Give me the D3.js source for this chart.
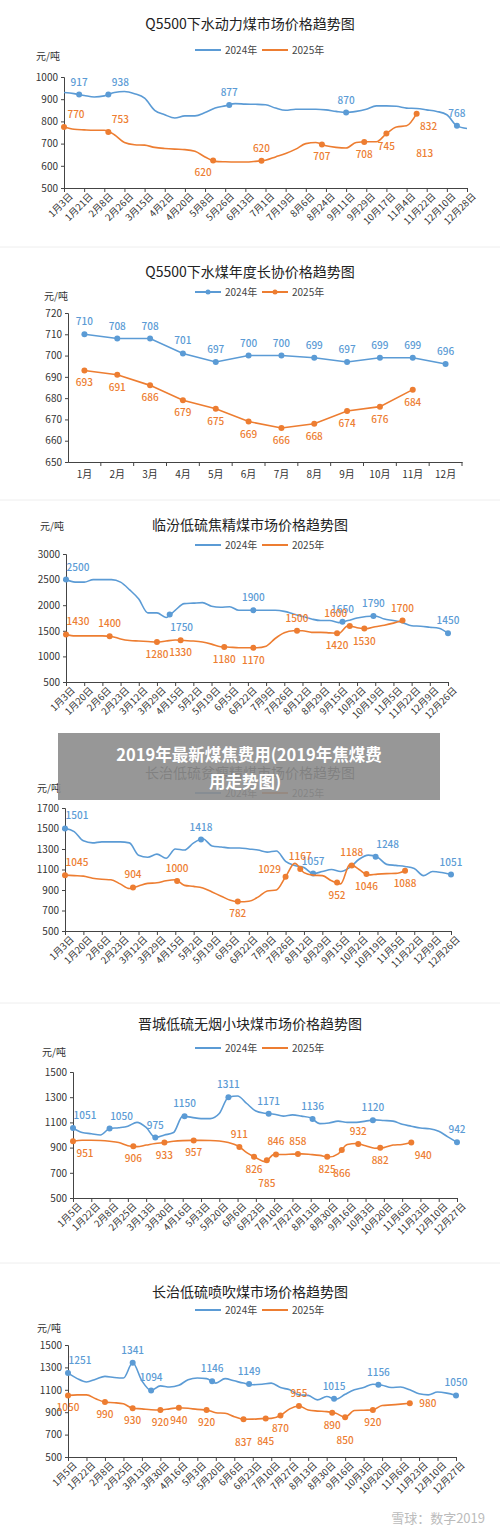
<!DOCTYPE html>
<html lang="zh">
<head>
<meta charset="UTF-8">
<title>煤价走势</title>
<script src="https://d3js.org/d3.v7.min.js"></script>
<style>
  body { margin: 0; background: #fff; }
  text { font-family: "Noto Sans CJK SC", "Noto Sans", sans-serif; }
</style>
</head>
<body>
<div id="chart"></div>
<script>
// ---- data (daily charts: one value every half tick interval) ----
const ticks1 = ["1月3日","1月21日","2月8日","2月26日","3月15日","4月2日","4月20日","5月8日","5月26日","6月13日","7月1日","7月19日","8月6日","8月24日","9月11日","9月29日","10月17日","11月4日","11月22日","12月10日","12月28日"];
const q5500Spot2024 = [930,925,917,910,915,930,935,925,905,850,830,815,825,825,840,860,870,880,878,877,875,860,850,855,855,855,852,845,840,845,855,870,870,868,860,858,852,845,830,780,768];
const q5500Spot2025 = [775,765,762,760,760,740,705,695,693,683,678,675,673,665,640,620,618,617,617,620,625,640,655,675,700,705,690,683,680,705,708,708,745,775,780,835];

const months = ["1月","2月","3月","4月","5月","6月","7月","8月","9月","10月","11月","12月"];
const q5500Contract2024 = [710,708,708,701,697,700,700,699,697,699,699,696];
const q5500Contract2025 = [693,691,686,679,675,669,666,668,674,676,684];

const ticks3 = ["1月3日","1月20日","2月6日","2月23日","3月12日","3月29日","4月15日","5月2日","5月19日","6月5日","6月22日","7月9日","7月26日","8月12日","8月29日","9月15日","10月2日","10月19日","11月5日","11月22日","12月9日","12月26日"];
const linfen2024 = [2500,2450,2450,2500,2500,2500,2450,2300,2120,1850,1850,1760,1900,2030,2040,2050,1980,1960,1970,1900,1900,1900,1900,1900,1880,1830,1780,1730,1700,1700,1660,1700,1750,1780,1790,1730,1700,1660,1600,1590,1570,1550,1450];
const linfen2025 = [1430,1400,1400,1400,1400,1390,1340,1310,1300,1290,1280,1300,1320,1310,1300,1280,1240,1190,1180,1170,1170,1170,1200,1350,1460,1500,1500,1470,1470,1460,1450,1600,1560,1540,1580,1610,1650,1700];

const changzhiCoking2024 = [1501,1470,1380,1360,1370,1370,1370,1360,1240,1220,1250,1210,1300,1290,1360,1400,1330,1320,1310,1310,1300,1290,1270,1280,1180,1140,1120,1060,1080,1100,1080,1120,1200,1240,1220,1150,1140,1130,1110,1040,1080,1070,1051];
const changzhiCoking2025 = [1045,1040,1035,1015,1005,1000,960,915,940,965,970,990,1000,945,935,920,880,840,800,785,790,830,890,900,1029,1160,1070,1045,1040,990,960,1150,1100,1046,1055,1060,1062,1088];

const ticks5 = ["1月5日","1月22日","2月8日","2月25日","3月13日","3月30日","4月16日","5月3日","5月20日","6月6日","6月23日","7月10日","7月27日","8月13日","8月30日","9月16日","10月3日","10月20日","11月6日","11月23日","12月10日","12月27日"];
const jincheng2024 = [1055,1020,1010,1000,1051,1058,1070,1100,1060,980,1000,1020,1150,1140,1130,1130,1170,1300,1310,1250,1190,1172,1165,1150,1160,1150,1136,1090,1095,1110,1100,1100,1110,1120,1115,1110,1085,1070,1055,1050,1030,985,942];
const jincheng2025 = [951,958,958,956,950,940,915,908,920,933,940,950,955,957,957,956,952,940,915,860,820,788,846,845,848,850,845,838,825,850,925,932,915,895,900,920,925,940];

const changzhiPci2024 = [1251,1200,1170,1195,1220,1210,1205,1341,1180,1094,1135,1125,1140,1190,1205,1200,1160,1200,1180,1160,1145,1150,1160,1120,1100,1055,1050,1010,1040,1015,1060,1100,1120,1150,1140,1120,1125,1100,1065,1055,1080,1070,1050];
const changzhiPci2025 = [1050,1055,1055,1020,990,985,975,935,930,922,920,930,940,935,925,920,895,890,860,837,838,843,845,870,930,955,920,910,905,890,855,915,918,920,960,965,972,980];

// markers: [x in tick units, label, label position]
const m1b = [[0.75,"917","t"],[2.2,"938","tr"],[8.2,"877","t"],[14,"870","t"],[19.5,"768","t"]];
const m1o = [[0,"770","tr"],[2.2,"753","tr"],[7.4,"620","bl"],[9.8,"620","t"],[12.8,"707","b"],[14.9,"708","b"],[16,"745","b"],[17.5,"832","br"]];
const m3b = [[0,"2500","tr"],[5.7,"1750","br"],[10.3,"1900","t"],[15.2,"1650","t"],[16.9,"1790","t"],[21,"1450","t"]];
const m3o = [[0,"1430","tr"],[2.4,"1400","t"],[5,"1280","b"],[6.3,"1330","b"],[8.7,"1180","b"],[10.3,"1170","b"],[12.7,"1500","t"],[14.9,"1420","b"],[15.6,"1600","tl"],[16.4,"1530","b"],[18.5,"1700","t"]];
const m4b = [[0,"1501","tr"],[7.4,"1418","t"],[13.5,"1057","t"],[16.9,"1248","tr"],[21,"1051","t"]];
const m4o = [[0,"1045","tr"],[3.7,"904","t"],[6.1,"1000","t"],[9.4,"782","b"],[12,"1029","l"],[12.8,"1167","t"],[14.8,"952","b"],[15.6,"1188","t"],[16.4,"1046","b"],[18.5,"1088","b"]];
const m5b = [[0,"1051","tr"],[2,"1050","tr"],[4.5,"975","t"],[6.1,"1150","t"],[8.5,"1311","t"],[10.7,"1171","t"],[13.1,"1136","t"],[16.4,"1120","t"],[21,"942","t"]];
const m5o = [[0,"951","br"],[3.3,"906","b"],[5,"933","b"],[6.6,"957","b"],[9.1,"911","t"],[9.9,"826","b"],[10.6,"785","bb"],[11.1,"846","t"],[12.3,"858","t"],[13.9,"825","b"],[14.7,"866","bb"],[15.6,"932","t"],[16.8,"882","b"],[18.5,"940","br"]];
const m6b = [[0,"1251","tr"],[3.5,"1341","t"],[4.5,"1094","t"],[7.8,"1146","t"],[9.8,"1149","t"],[14.4,"1015","t"],[16.8,"1156","t"],[21,"1050","t"]];
const m6o = [[0,"1050","b"],[2,"990","b"],[3.5,"930","b"],[5,"920","b"],[6,"940","b"],[7.5,"920","b"],[9.5,"837","bb"],[10.7,"845","bb"],[11.5,"870","b"],[12.5,"955","t"],[14.3,"890","b"],[15,"850","bb"],[16.5,"920","b"],[18.5,"980","r"]];

const BLUE = "#5b9bd5", ORANGE = "#ed7d31";
const W = 500, H = 1533;
const svg = d3.select("#chart").append("svg").attr("width", W).attr("height", H);

// faint panel separators
[247, 500, 1003, 1263].forEach(y => svg.append("line").attr("x1", 0).attr("x2", W)
  .attr("y1", y).attr("y2", y).attr("stroke", "#eee"));

const off = {t:[0,-9], tr:[12,-9], tl:[-14,-9], b:[0,16], bb:[0,27], bl:[-10,16], br:[12,16], l:[-16,-4], r:[18,4]};

function legend(cy, dots) {
  [[2024, BLUE, 195], [2025, ORANGE, 262]].forEach(([yr, c, x]) => {
    svg.append("line").attr("x1", x).attr("x2", x + 26).attr("y1", cy).attr("y2", cy)
      .attr("stroke", c).attr("stroke-width", 2);
    if (dots) svg.append("circle").attr("cx", x + 13).attr("cy", cy).attr("r", 2.5).attr("fill", c);
    svg.append("text").attr("x", x + 30).attr("y", cy + 4).attr("font-size", 10)
      .attr("fill", "#444").text(yr + "年");
  });
}

function header(c) {
  svg.append("text").attr("x", c.titleX || 250).attr("y", c.titleY).attr("text-anchor", "middle")
    .attr("font-size", 14).attr("fill", "#222").text(c.title);
  legend(c.legendY, c.dots);
  svg.append("text").attr("x", c.unitX).attr("y", c.unitY).attr("font-size", 10)
    .attr("fill", "#333").text("元/吨");
}

function addLabels(g, pts, color) {
  pts.forEach(p => {
    g.append("circle").attr("cx", p.x).attr("cy", p.y).attr("r", 3).attr("fill", color);
    const o = off[p.pos];
    g.append("text").attr("x", p.x + o[0]).attr("y", p.y + o[1]).attr("text-anchor", "middle")
      .attr("font-size", 10).attr("font-weight", 500).attr("fill", color).text(p.label);
  });
}

function dailyChart(c) {
  header(c);
  const n = c.ticks.length - 1;
  const x = d3.scaleLinear().domain([0, n]).range([c.left, c.right]);
  const y = d3.scaleLinear().domain(c.yDomain).range([c.bottom, c.top]);
  const g = svg.append("g");
  g.append("g").attr("transform", `translate(${c.left},0)`)
    .call(d3.axisLeft(y).tickValues(c.yTicks).tickSize(3).tickFormat(d3.format("d")))
    .call(a => a.selectAll("text").attr("font-size", 10).attr("fill", "#333"))
    .call(a => a.selectAll("line,path").attr("stroke", "#444"));
  g.append("g").attr("transform", `translate(0,${c.bottom})`)
    .call(d3.axisBottom(x).tickValues(d3.range(n + 1)).tickSize(4).tickFormat(i => c.ticks[i]))
    .call(a => a.selectAll("line,path").attr("stroke", "#444"))
    .call(a => a.selectAll("text").attr("font-size", 9.5).attr("fill", "#333")
      .attr("text-anchor", "end").attr("dy", 0).attr("transform", "translate(4,4) rotate(-45)"));
  const line = d3.line().x((d, i) => x(i / 2)).y(d => y(d)).curve(d3.curveMonotoneX);
  [[c.s2024, BLUE, c.m2024], [c.s2025, ORANGE, c.m2025]].forEach(([s, col, ms]) => {
    g.append("path").datum(s).attr("d", line).attr("fill", "none").attr("stroke", col).attr("stroke-width", 1.6);
    const pts = ms.map(([mx, lab, pos]) => {
      const k = Math.min(Math.floor(mx * 2), s.length - 2), t = mx * 2 - k;
      const v = s[k] + (s[k + 1] - s[k]) * t;
      return {x: x(mx), y: y(v), label: lab, pos};
    });
    addLabels(g, pts, col);
  });
  if (c.extra) c.extra.forEach(([mx, v, lab, col]) =>
    g.append("text").attr("x", x(mx)).attr("y", y(v)).attr("text-anchor", "middle")
      .attr("font-size", 10).attr("font-weight", 500).attr("fill", col).text(lab));
}

// chart 1
dailyChart({title: "Q5500下水动力煤市场价格趋势图", titleY: 29, legendY: 50, unitX: 36, unitY: 60,
  ticks: ticks1, left: 64, right: 467, top: 77, bottom: 188, yDomain: [500, 1000],
  yTicks: d3.range(500, 1001, 100), s2024: q5500Spot2024, s2025: q5500Spot2025, m2024: m1b, m2025: m1o,
  extra: [[17.9, 640, "813", ORANGE]]});

// chart 2 (monthly)
(function () {
  header({title: "Q5500下水煤年度长协价格趋势图", titleY: 277, legendY: 292, unitX: 44, unitY: 300, dots: true});
  const left = 68, right = 462, top = 313, bottom = 462;
  const x = d3.scaleBand().domain(months).range([left, right]);
  const y = d3.scaleLinear().domain([650, 720]).range([bottom, top]);
  const g = svg.append("g");
  g.append("g").attr("transform", `translate(${left},0)`)
    .call(d3.axisLeft(y).ticks(7).tickSize(3))
    .call(a => a.selectAll("text").attr("font-size", 10).attr("fill", "#333"))
    .call(a => a.selectAll("line,path").attr("stroke", "#444"));
  g.append("g").attr("transform", `translate(0,${bottom})`)
    .call(d3.axisBottom(x).tickSize(0).tickPadding(9))
    .call(a => a.selectAll("path").attr("stroke", "#444"))
    .call(a => a.selectAll("text").attr("font-size", 10).attr("fill", "#333"));
  months.forEach(m => g.append("line").attr("x1", x(m) + x.bandwidth()).attr("x2", x(m) + x.bandwidth())
    .attr("y1", bottom).attr("y2", bottom + 4).attr("stroke", "#444"));
  const cx = m => x(m) + x.bandwidth() / 2;
  [[q5500Contract2024, BLUE, "t"], [q5500Contract2025, ORANGE, "b"]].forEach(([s, col, pos]) => {
    g.append("path").datum(s).attr("fill", "none").attr("stroke", col).attr("stroke-width", 1.6)
      .attr("d", d3.line().x((d, i) => cx(months[i])).y(d => y(d)));
    addLabels(g, s.map((d, i) => ({x: cx(months[i]), y: y(d), label: String(d), pos})), col);
  });
})();

// chart 3
dailyChart({title: "临汾低硫焦精煤市场价格趋势图", titleY: 530, legendY: 545, unitX: 40, unitY: 530,
  ticks: ticks3, left: 66, right: 448, top: 554, bottom: 682, yDomain: [500, 3000],
  yTicks: d3.range(500, 3001, 500), s2024: linfen2024, s2025: linfen2025, m2024: m3b, m2025: m3o});

// chart 4
dailyChart({title: "长治低硫贫瘦精煤市场价格趋势图", titleY: 778, legendY: 793, unitX: 37, unitY: 792,
  ticks: ticks3, left: 65, right: 451, top: 808, bottom: 931, yDomain: [500, 1700],
  yTicks: d3.range(500, 1701, 200), s2024: changzhiCoking2024, s2025: changzhiCoking2025, m2024: m4b, m2025: m4o});

// chart 5
dailyChart({title: "晋城低硫无烟小块煤市场价格趋势图", titleY: 1029, legendY: 1048, unitX: 42, unitY: 1056,
  ticks: ticks5, left: 73, right: 457, top: 1072, bottom: 1198, yDomain: [500, 1500],
  yTicks: d3.range(500, 1501, 200), s2024: jincheng2024, s2025: jincheng2025, m2024: m5b, m2025: m5o});

// chart 6
dailyChart({title: "长治低硫喷吹煤市场价格趋势图", titleY: 1297, legendY: 1310, unitX: 37, unitY: 1332,
  ticks: ticks5, left: 68, right: 456, top: 1345, bottom: 1457, yDomain: [500, 1500],
  yTicks: d3.range(500, 1501, 200), s2024: changzhiPci2024, s2025: changzhiPci2025, m2024: m6b, m2025: m6o});

// overlay banner
svg.append("rect").attr("x", 58).attr("y", 733).attr("width", 382).attr("height", 67)
  .attr("fill", "#8c8c8c").attr("opacity", 0.9);
svg.append("text").attr("x", 249).attr("y", 761).attr("text-anchor", "middle").attr("font-size", 16.5)
  .attr("font-weight", "bold").attr("fill", "#fff").text("2019年最新煤焦费用(2019年焦煤费");
svg.append("text").attr("x", 245).attr("y", 788).attr("text-anchor", "middle").attr("font-size", 16.5)
  .attr("font-weight", "bold").attr("fill", "#fff").text("用走势图)");

// watermark
svg.append("text").attr("x", 485).attr("y", 1523).attr("text-anchor", "end").attr("font-size", 13)
  .attr("fill", "#bbb").text("雪球：数字2019");
</script>
</body>
</html>
